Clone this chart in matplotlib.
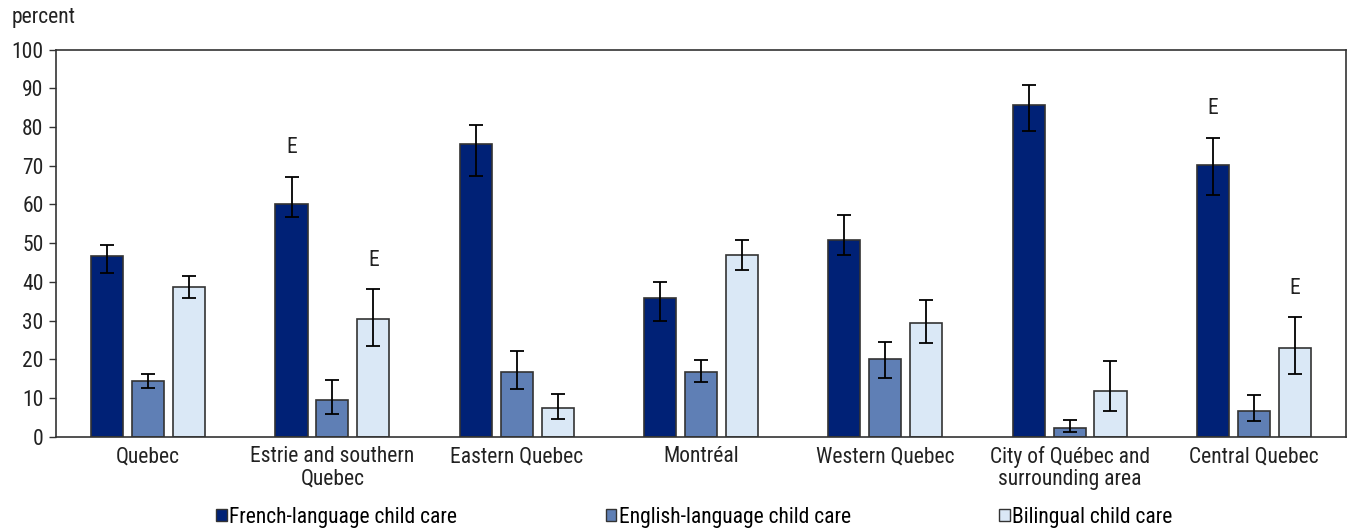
import matplotlib
matplotlib.use("Agg")
import matplotlib.pyplot as plt
import numpy as np
from matplotlib.patches import Patch

plt.rcParams['font.family'] = ['Roboto Condensed', 'Archivo Narrow', 'DejaVu Sans']

regions = ["Quebec", "Estrie and southern\nQuebec", "Eastern Quebec", "Montréal",
           "Western Quebec", "City of Québec and\nsurrounding area", "Central Quebec"]
series = ["French-language child care", "English-language child care", "Bilingual child care"]

french = [46.7, 60.0, 75.6, 35.9, 50.9, 85.6, 70.1]
french_lo = [42.4, 56.8, 67.4, 30.0, 46.9, 79.0, 62.4]
french_hi = [49.6, 67.2, 80.5, 39.9, 57.4, 90.9, 77.2]

english = [14.4, 9.5, 16.8, 16.8, 20.0, 2.3, 6.6]
english_lo = [12.7, 5.9, 12.4, 14.1, 15.1, 1.3, 4.0]
english_hi = [16.3, 14.7, 22.1, 19.7, 24.5, 4.2, 10.9]

bilingual = [38.6, 30.5, 7.3, 47.0, 29.4, 11.8, 23.0]
bilingual_lo = [35.8, 23.5, 4.7, 43.0, 24.1, 6.7, 16.2]
bilingual_hi = [41.4, 38.1, 11.1, 50.7, 35.4, 19.6, 30.9]

# "E" quality flags (series index, region index)
e_flags = [(0, 1), (2, 1), (0, 6), (2, 6)]

colors = ["#002176", "#5f7fb5", "#dae8f6"]
edge = "#333333"
fs = 15.5

fig = plt.figure(figsize=(13.51, 5.29), dpi=100)
ax = fig.add_axes([56 / 1351, 1 - 436.7 / 529, 1290 / 1351, 387 / 529])

x = np.arange(len(regions))
width = 0.174
step = 0.222
data = [(french, french_lo, french_hi), (english, english_lo, english_hi),
        (bilingual, bilingual_lo, bilingual_hi)]

for i, (vals, lo, hi) in enumerate(data):
    pos = x + (i - 1) * step
    vals = np.array(vals)
    yerr = np.vstack([vals - np.array(lo), np.array(hi) - vals])
    ax.bar(pos, vals, width, color=colors[i], edgecolor=edge, linewidth=1.2, zorder=2)
    ax.errorbar(pos, vals, yerr=yerr, fmt='none', ecolor='black', elinewidth=1.3,
                capsize=5, capthick=1.3, zorder=3)

for si, ri in e_flags:
    top = data[si][2][ri]
    ax.text(x[ri] + (si - 1) * step, top + 7.5, "E", ha='center', va='center',
            fontsize=fs, color='#222222')

ax.set_xlim(-0.5, len(regions) - 0.5)
ax.set_ylim(0, 100)
ax.set_yticks(np.arange(0, 101, 10))
ax.set_xticks(x)
ax.set_xticklabels(regions, fontsize=fs, color='#222222', linespacing=1.05)
ax.tick_params(axis='x', length=0, pad=7)
ax.tick_params(axis='y', labelsize=fs, labelcolor='#222222', length=5, width=1,
               color='#333333', direction='out', pad=4)
for s in ax.spines.values():
    s.set_color('#333333')
    s.set_linewidth(1.2)

fig.text(12 / 1351, 1 - 17 / 529, "percent", fontsize=fs, color='#222222',
         ha='left', va='center')

handles = [Patch(facecolor=c, edgecolor=edge, linewidth=1) for c in colors]
fig.legend(handles, series, loc='center', bbox_to_anchor=(0.514, 1 - 517 / 529),
           ncol=3, frameon=False, fontsize=fs, handlelength=0.5, handleheight=0.5,
           handletextpad=0.1, columnspacing=6.9)

fig.savefig("out.png", dpi=100)
